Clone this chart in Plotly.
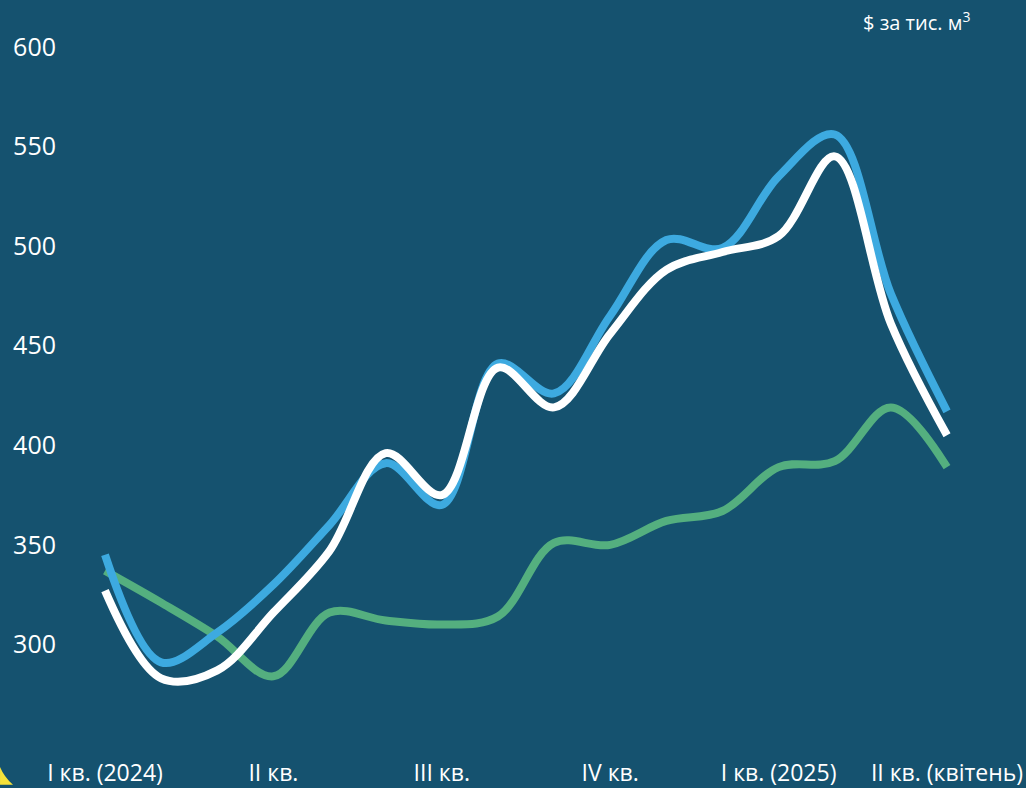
import plotly.graph_objects as go

months = ["01.2024", "02.2024", "03.2024", "04.2024", "05.2024", "06.2024",
          "07.2024", "08.2024", "09.2024", "10.2024", "11.2024", "12.2024",
          "01.2025", "02.2025", "03.2025", "04.2025"]
blue_vals = [345, 291, 306, 330, 360, 391, 370, 441, 426, 465, 503, 499, 535, 556, 476, 417]
white_vals = [327, 283, 287, 316, 347, 396, 375, 439, 419, 456, 488, 497, 505, 545, 461, 405]
green_vals = [337, 321, 304, 284, 316, 312, 310, 314, 351, 350, 362, 367, 389, 392, 419, 389]

tick_months = ["01.2024", "04.2024", "07.2024", "10.2024", "01.2025", "04.2025"]
tick_labels = ["I кв. (2024)", "II кв.", "III кв.", "IV кв.", "I кв. (2025)", "II кв. (квітень)"]
y_ticks = [300, 350, 400, 450, 500, 550, 600]

BG = "#15526F"
FONT = "Open Sans"

fig = go.Figure()
for vals, color in [(green_vals, "#54AF7F"), (blue_vals, "#3DAAE0"), (white_vals, "#FFFFFF")]:
    fig.add_trace(go.Scatter(
        x=months, y=vals, mode="lines",
        line=dict(color=color, width=8, shape="spline", smoothing=1.0),
        hoverinfo="skip", showlegend=False,
    ))

fig.update_layout(
    width=1026, height=788,
    paper_bgcolor=BG, plot_bgcolor=BG,
    margin=dict(l=57, r=0, t=0, b=28),
    font=dict(family=FONT, color="white"),
    xaxis=dict(
        type="category", range=[-0.8551, 16.407],
        tickvals=tick_months, ticktext=tick_labels,
        tickfont=dict(size=23, color="white", family=FONT),
        showgrid=False, zeroline=False, showline=False, ticks="",
    ),
    yaxis=dict(
        range=[243.5, 623.5], tickvals=y_ticks,
        tickfont=dict(size=25, color="white", family=FONT),
        showgrid=False, zeroline=False, showline=False, ticks="",
    ),
    annotations=[dict(
        text="$ за тис. м<sup>3</sup>", xref="paper", yref="paper",
        x=(972 - 57) / 969, y=1 - 22 / 760, xanchor="right", yanchor="middle",
        showarrow=False, font=dict(size=20, color="white", family=FONT),
    )],
    shapes=[dict(
        type="path", xref="paper", yref="paper",
        path="M -0.0588,-0.0132 Q -0.0547,-0.0260 -0.0454,-0.0368 L -0.0588,-0.0368 Z",
        fillcolor="#F5E23A", line=dict(width=0),
    )],
)

fig.write_html(
    "out.html",
    config={"displayModeBar": False},
    post_script="document.body.style.margin='0';document.body.style.overflow='hidden';",
)
